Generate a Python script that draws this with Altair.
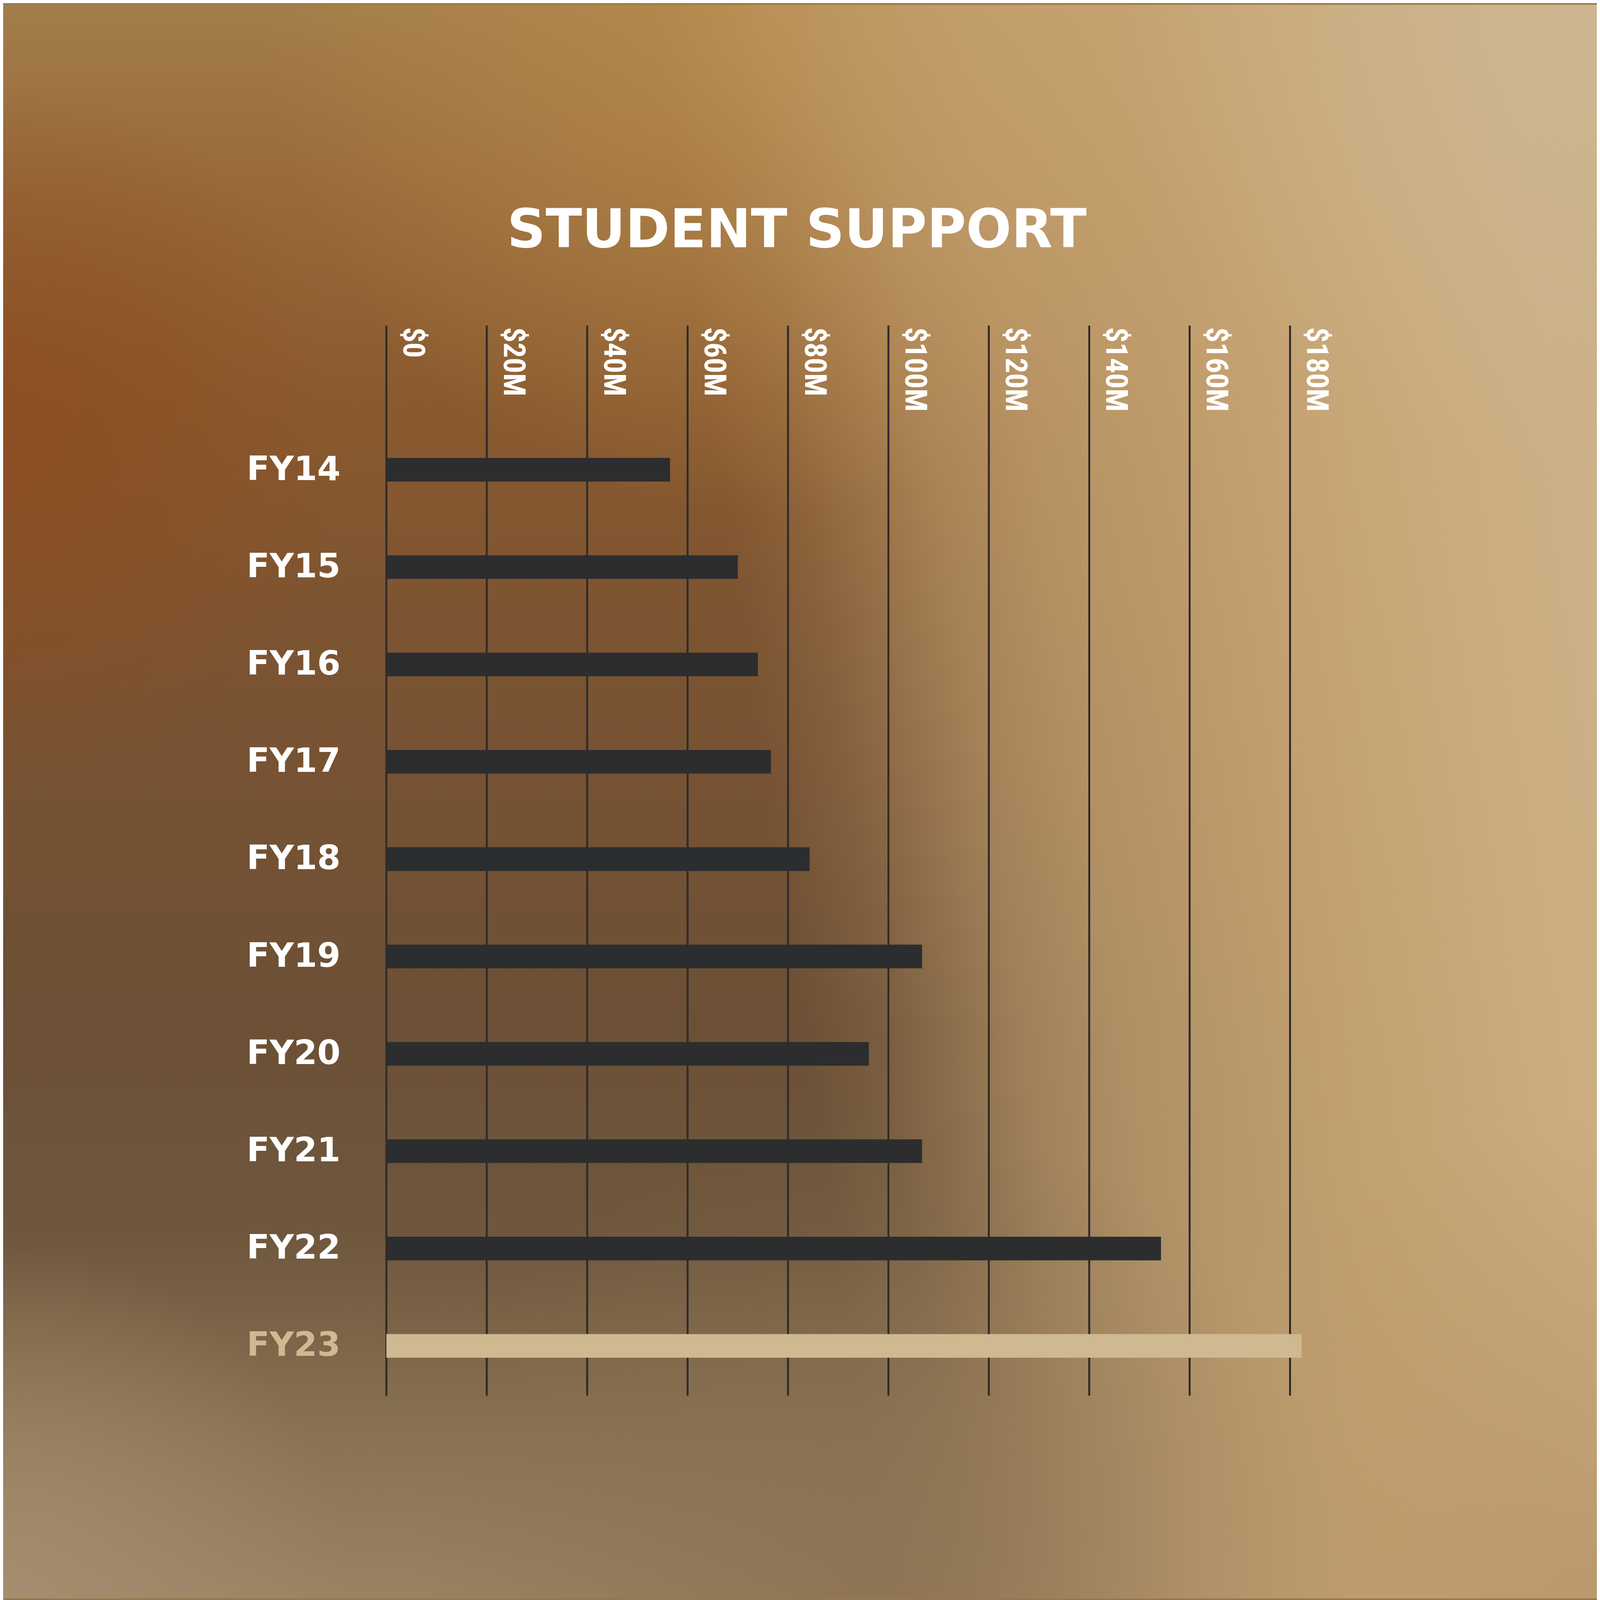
import altair as alt
import pandas as pd

# ---------------- data ----------------
years = ["FY14", "FY15", "FY16", "FY17", "FY18", "FY19", "FY20", "FY21", "FY22", "FY23"]
support = [56.5, 70.0, 74.0, 76.6, 84.3, 106.7, 96.1, 106.7, 154.3, 182.3]
tick_values = [0, 20, 40, 60, 80, 100, 120, 140, 160, 180]
title_text = ["STUDENT SUPPORT"]
highlight_year = "FY23"

# ---------------- layout (fits the visible 4096 x 4096 frame) ----------------
TOTAL_W, TOTAL_H = 4088, 4088
W, H = 2318, 2745
PAD_L, PAD_T = 983, 823
PAD_R = TOTAL_W - PAD_L - W
PAD_B = TOTAL_H - PAD_T - H

GOLD = "#CFB991"
BAR = "#2C2D2F"
GRID = "#2E2C2A"

bars_df = pd.DataFrame({"year": years, "support": support})
ticks_df = pd.DataFrame({"tick": tick_values})
title_df = pd.DataFrame({"title": title_text})
bg_df = pd.DataFrame({"k": [0]})


def rgba(rgb, a):
    return f"rgba({rgb[0]},{rgb[1]},{rgb[2]},{a})"


def radial(u, v, r, rgb, stops):
    return {
        "gradient": "radial",
        "x1": u, "y1": v, "r1": 0,
        "x2": u, "y2": v, "r2": r,
        "stops": [{"offset": o, "color": rgba(rgb, a)} for o, a in stops],
    }


vertical_base = {
    "gradient": "linear", "x1": 0, "y1": 0, "x2": 0, "y2": 1,
    "stops": [
        {"offset": 0.0, "color": "#a37d4a"},
        {"offset": 0.12, "color": "#98693a"},
        {"offset": 0.25, "color": "#8a5a2f"},
        {"offset": 0.38, "color": "#7d5431"},
        {"offset": 0.51, "color": "#755234"},
        {"offset": 0.64, "color": "#6c5036"},
        {"offset": 0.77, "color": "#6f573d"},
        {"offset": 0.89, "color": "#887052"},
        {"offset": 1.0, "color": "#9a8263"},
    ],
}

light = (201, 167, 118)
side_light = {
    "gradient": "linear", "x1": 0, "y1": 0.575, "x2": 1, "y2": 0.425,
    "stops": [
        {"offset": 0.0, "color": rgba(light, 0)},
        {"offset": 0.48, "color": rgba(light, 0)},
        {"offset": 0.53, "color": rgba(light, 0.15)},
        {"offset": 0.615, "color": rgba(light, 0.55)},
        {"offset": 0.675, "color": rgba(light, 0.72)},
        {"offset": 0.8, "color": rgba(light, 0.9)},
        {"offset": 0.93, "color": rgba((203, 172, 126), 1)},
        {"offset": 1.0, "color": rgba((204, 176, 134), 1)},
    ],
}

fills = [
    vertical_base,
    radial(0.48, 0.0, 0.32, (184, 140, 76), [(0, 0.85), (0.5, 0.45), (1, 0)]),
    radial(0.0, 0.27, 0.22, (140, 76, 32), [(0, 0.85), (0.5, 0.45), (1, 0)]),
    side_light,
    radial(0.55, 1.0, 0.3, (138, 112, 80), [(0, 0.75), (0.5, 0.4), (1, 0)]),
    radial(0.0, 1.0, 0.22, (166, 143, 112), [(0, 0.9), (0.5, 0.45), (1, 0)]),
    radial(1.0, 0.0, 0.3, (205, 183, 146), [(0, 0.8), (1, 0)]),
    radial(1.0, 1.0, 0.3, (180, 145, 102), [(0, 0.7), (1, 0)]),
]


def bg_layer(fill):
    return alt.Chart(bg_df).mark_rect(fill=fill).encode(
        x=alt.value(-PAD_L),
        x2=alt.value(TOTAL_W - PAD_L),
        y=alt.value(-PAD_T),
        y2=alt.value(TOTAL_H - PAD_T),
    )


backgrounds = [bg_layer(f) for f in fills]

xscale = alt.Scale(domain=[0, 180], nice=False, zero=True)
yscale = alt.Scale(paddingInner=0.7568, paddingOuter=0.875, align=0.777)

rules = alt.Chart(ticks_df).mark_rule(color=GRID, strokeWidth=5).encode(
    x=alt.X("tick:Q", scale=xscale, axis=None)
)

tick_labels = (
    alt.Chart(ticks_df)
    .transform_calculate(label="'$' + datum.tick + (datum.tick == 0 ? '' : 'M')")
    .mark_text(
        angle=90,
        align="left",
        baseline="alphabetic",
        dy=-44,
        dx=4,
        font="Roboto Condensed, Liberation Sans Narrow, DejaVu Sans",
        fontWeight="bold",
        fontSize=78,
        color="white",
    )
    .encode(
        x=alt.X("tick:Q", scale=xscale, axis=None),
        y=alt.value(0),
        text="label:N",
    )
)

title = (
    alt.Chart(title_df)
    .mark_text(
        align="center",
        baseline="alphabetic",
        font="DejaVu Sans",
        fontWeight="bold",
        fontSize=137,
        color="white",
    )
    .encode(x=alt.value(1053), y=alt.value(-201), text="title:N")
)

yaxis = alt.Axis(
    labelFont="DejaVu Sans",
    labelFontWeight="bold",
    labelFontSize=86,
    labelColor={"condition": {"test": f"datum.value == '{highlight_year}'", "value": GOLD}, "value": "white"},
    labelPadding=118,
    labelAlign="right",
    labelBaseline="middle",
    labelLimit=2000,
    ticks=False,
    tickSize=0,
    domain=False,
    grid=False,
    title=None,
    zindex=1,
)

bars = alt.Chart(bars_df).mark_bar().encode(
    x=alt.X("support:Q", scale=xscale, axis=None),
    y=alt.Y("year:N", sort=years, scale=yscale, axis=yaxis),
    color=alt.condition(alt.datum.year == highlight_year, alt.value(GOLD), alt.value(BAR)),
)

chart = alt.layer(*backgrounds, rules, bars, tick_labels, title).properties(
    width=W,
    height=H,
    padding={"left": PAD_L, "top": PAD_T, "right": PAD_R, "bottom": PAD_B},
    autosize=alt.AutoSizeParams(type="none"),
    background="#9a7648",
).configure_view(stroke=None)

chart.save("out.html", embed_options={"renderer": "svg", "actions": False})
